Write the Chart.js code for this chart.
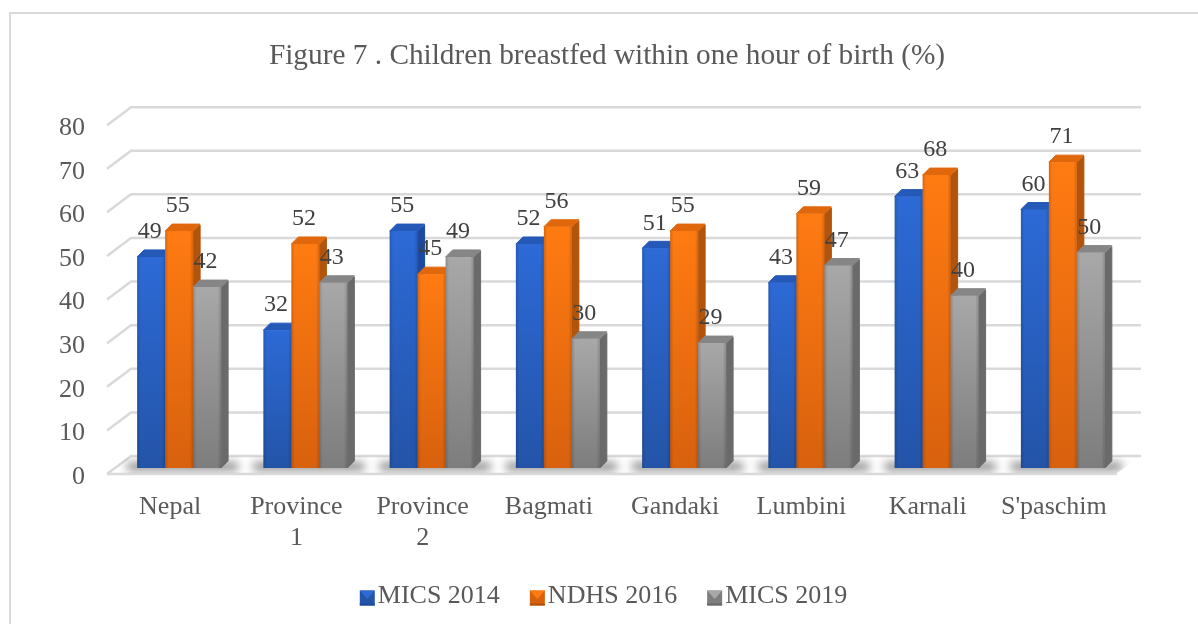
<!DOCTYPE html>
<html>
<head>
<meta charset="utf-8">
<title>Figure 7</title>
<script src="https://cdn.jsdelivr.net/npm/chart.js@4"></script>
<style>
  html, body { margin: 0; background: #fff; overflow: hidden; }
  canvas { display: block; }
</style>
</head>
<body>
<canvas id="chart" width="1198" height="624"></canvas>
<script>
// -----------------------------
// DATA
// -----------------------------
const categories = ['Nepal', ['Province', '1'], ['Province', '2'], 'Bagmati', 'Gandaki', 'Lumbini', 'Karnali', "S'paschim"];
const mics2014 = [49, 32, 55, 52, 51, 43, 63, 60];
const ndhs2016 = [55, 52, 45, 56, 55, 59, 68, 71];
const mics2019 = [42, 43, 49, 30, 29, 47, 40, 50];
const seriesNames = ['MICS 2014', 'NDHS 2016', 'MICS 2019'];
const yTicks = [0, 10, 20, 30, 40, 50, 60, 70, 80];

// -----------------------------
// STYLE
// -----------------------------
const SERIF = '"Liberation Serif", "Times New Roman", serif';
const palette = [
  { top: '#2d6ad6', bottom: '#2354a8', side: '#1c4a9e', cap: '#2459b8' },
  { top: '#ff7b12', bottom: '#d8610e', side: '#b2540b', cap: '#e0670c' },
  { top: '#a8a8a8', bottom: '#7d7d7d', side: '#6a6a6a', cap: '#868686' }
];
const GRID = '#d9d9d9';
const WALL_DX = 24, WALL_DY = 18;   // perspective of the back wall
const WALL_LIFT = 3;                // tick labels sit a little under the front edge
const BAR_DX = 7, BAR_DY = 7;       // depth of each bar
const BAR_SHIFT = 9;                // bars stand a little behind the front edge

function faceColor(ctx, i) {
  const chart = ctx.chart;
  if (!chart.chartArea || !ctx.parsed) return palette[i].top;
  const s = chart.scales.yBars;
  const g = chart.ctx.createLinearGradient(0, s.getPixelForValue(ctx.parsed.y), 0, s.getPixelForValue(0));
  g.addColorStop(0, palette[i].top);
  g.addColorStop(1, palette[i].bottom);
  return g;
}

// -----------------------------
// 3D WALL, BARS, LABELS
// -----------------------------
function poly(ctx, pts, color) {
  ctx.beginPath();
  pts.forEach((p, n) => n ? ctx.lineTo(p[0], p[1]) : ctx.moveTo(p[0], p[1]));
  ctx.closePath();
  ctx.fillStyle = color;
  ctx.strokeStyle = color;
  ctx.lineWidth = 1;
  ctx.lineJoin = 'round';
  ctx.fill();
  ctx.stroke();
}

function drawWall(chart) {
  const ctx = chart.ctx;
  const { left, right } = chart.chartArea;
  const y = chart.scales.y;
  ctx.save();
  ctx.strokeStyle = GRID;
  ctx.lineWidth = 2.5;
  yTicks.forEach(v => {
    const py = y.getPixelForValue(v) - WALL_LIFT;
    ctx.beginPath();
    ctx.moveTo(left, py);
    ctx.lineTo(left + WALL_DX, py - WALL_DY);
    ctx.lineTo(right + WALL_DX, py - WALL_DY);
    if (v === 0) {
      ctx.moveTo(left, py);
      ctx.lineTo(right, py);
    }
    ctx.stroke();
  });
  ctx.restore();
}

function drawShadows(chart) {
  const ctx = chart.ctx;
  const { left, right } = chart.chartArea;
  const py = chart.scales.y.getPixelForValue(0) - WALL_LIFT;
  const base = chart.scales.yBars.getPixelForValue(0);
  const first = chart.getDatasetMeta(0).data;
  const last = chart.getDatasetMeta(2).data;
  ctx.save();
  ctx.beginPath();
  ctx.moveTo(left, py - 1);
  ctx.lineTo(left + WALL_DX, py - WALL_DY);
  ctx.lineTo(right + WALL_DX, py - WALL_DY);
  ctx.lineTo(right, py - 1);
  ctx.closePath();
  ctx.clip();
  ctx.filter = 'blur(5px)';
  ctx.fillStyle = 'rgba(70,70,70,0.75)';
  first.forEach((el, i) => {
    const x0 = el.x - el.width / 2 + BAR_SHIFT;
    const x1 = last[i].x + last[i].width / 2 + BAR_SHIFT + BAR_DX;
    ctx.fillRect(x0 - 10, base - 5, x1 - x0 + 20, 7);
  });
  ctx.restore();
}

function drawBars(chart) {
  const ctx = chart.ctx;
  const base = chart.scales.yBars.getPixelForValue(0);
  ctx.save();
  ctx.translate(BAR_SHIFT, 0);
  [0, 1, 2].forEach(i => {
    chart.getDatasetMeta(i).data.forEach(el => {
      const x0 = el.x - el.width / 2, x1 = el.x + el.width / 2, top = el.y;
      poly(ctx, [[x1, top], [x1 + BAR_DX, top - BAR_DY + 1], [x1 + BAR_DX, base - BAR_DY], [x1, base]], palette[i].side);
      poly(ctx, [[x0, top], [x0 + BAR_DX, top - BAR_DY], [x1 + BAR_DX, top - BAR_DY], [x1, top]], palette[i].cap);
      el.draw(ctx);
      // darker edges on the face
      const g = ctx.createLinearGradient(x0, 0, x1, 0);
      g.addColorStop(0, 'rgba(0,0,0,0.16)');
      g.addColorStop(0.12, 'rgba(0,0,0,0)');
      g.addColorStop(0.88, 'rgba(0,0,0,0)');
      g.addColorStop(1, 'rgba(0,0,0,0.16)');
      ctx.fillStyle = g;
      ctx.fillRect(x0, top, x1 - x0, base - top);
    });
  });
  ctx.restore();
}

function drawValueLabels(chart) {
  const ctx = chart.ctx;
  ctx.save();
  ctx.font = '24px ' + SERIF;
  ctx.fillStyle = '#404040';
  ctx.textAlign = 'center';
  ctx.textBaseline = 'middle';
  [0, 1, 2].forEach(i => {
    const meta = chart.getDatasetMeta(i);
    meta.data.forEach((el, n) => {
      ctx.fillText(chart.data.datasets[i].data[n], el.x + BAR_SHIFT - 1.5, el.y - 25);
    });
  });
  ctx.restore();
}

function drawLegendIcons(chart) {
  const ctx = chart.ctx;
  chart.legend.legendHitBoxes.forEach((box, i) => {
    const x = box.left, s = 15;
    const y = box.top + (box.height - s) / 2 + 2;
    const c = palette[i];
    ctx.save();
    ctx.fillStyle = c.bottom;
    ctx.fillRect(x, y, s, s);
    ctx.beginPath();
    ctx.moveTo(x, y);
    ctx.lineTo(x + s, y);
    ctx.lineTo(x + s / 2, y + s / 2 + 1);
    ctx.closePath();
    ctx.fillStyle = c.top;
    ctx.fill();
    ctx.fillStyle = c.side;
    ctx.fillRect(x, y + s - 2, s, 2);
    ctx.restore();
  });
}

const bars3d = {
  id: 'bars3d',
  beforeDraw(chart) {
    const ctx = chart.ctx;
    ctx.save();
    ctx.strokeStyle = GRID;
    ctx.lineWidth = 2;
    ctx.beginPath();
    ctx.moveTo(10, chart.height);
    ctx.lineTo(10, 13);
    ctx.lineTo(chart.width, 13);
    ctx.stroke();
    ctx.restore();
  },
  afterLayout(chart) {
    // the title sits slightly right of the legend centre
    chart.titleBlock.left += 3.5;
    chart.titleBlock.right += 3.5;
  },
  beforeDatasetsDraw(chart) {
    drawWall(chart);
    drawShadows(chart);
    drawBars(chart);
    drawValueLabels(chart);
    return false;
  },
  afterDraw(chart) {
    drawLegendIcons(chart);
  }
};

// -----------------------------
// CHART
// -----------------------------
const seriesValues = [mics2014, ndhs2016, mics2019];

new Chart(document.getElementById('chart'), {
  type: 'bar',
  data: {
    labels: categories,
    datasets: seriesNames.map((name, i) => ({
      label: name,
      data: seriesValues[i],
      yAxisID: 'yBars',
      backgroundColor: ctx => faceColor(ctx, i),
      borderWidth: 0,
      categoryPercentage: 0.665,
      barPercentage: 1
    }))
  },
  options: {
    responsive: false,
    animation: false,
    layout: { padding: { left: 9, top: 0, right: 0, bottom: 5 } },
    plugins: {
      title: {
        display: true,
        text: 'Figure 7 . Children breastfed within one hour of birth (%)',
        color: '#595959',
        font: { family: SERIF, size: 29.3, weight: 'normal' },
        padding: { top: 39, bottom: 54 }
      },
      legend: {
        position: 'bottom',
        labels: {
          color: '#595959',
          font: { family: SERIF, size: 26 },
          boxWidth: 5,
          boxHeight: 15,
          padding: 30,
          generateLabels(chart) {
            return Chart.defaults.plugins.legend.labels.generateLabels(chart).map(item => ({
              ...item,
              fillStyle: 'rgba(0,0,0,0)',
              strokeStyle: 'rgba(0,0,0,0)',
              lineWidth: 0
            }));
          }
        }
      },
      tooltip: { enabled: false }
    },
    scales: {
      x: {
        grid: { display: false, drawTicks: false },
        border: { display: false },
        ticks: {
          color: '#595959',
          font: { family: SERIF, size: 26, lineHeight: 1.19 },
          padding: 15,
          autoSkip: false,
          maxRotation: 0
        },
        afterFit: s => { s.height = 76; }
      },
      y: {
        min: 0,
        max: 80,
        grid: { display: false, drawTicks: false },
        border: { display: false },
        ticks: {
          stepSize: 10,
          color: '#595959',
          font: { family: SERIF, size: 26 },
          padding: 22
        },
        afterFit: s => { s.width = 98; }
      },
      // the bars stand on a plane a little behind the front axis
      yBars: {
        position: 'right',
        min: -2.09,
        max: 78.89,
        grid: { display: false, drawTicks: false },
        border: { display: false },
        ticks: { display: false },
        afterFit: s => { s.width = 81; }
      }
    }
  },
  plugins: [bars3d]
});
</script>
</body>
</html>
